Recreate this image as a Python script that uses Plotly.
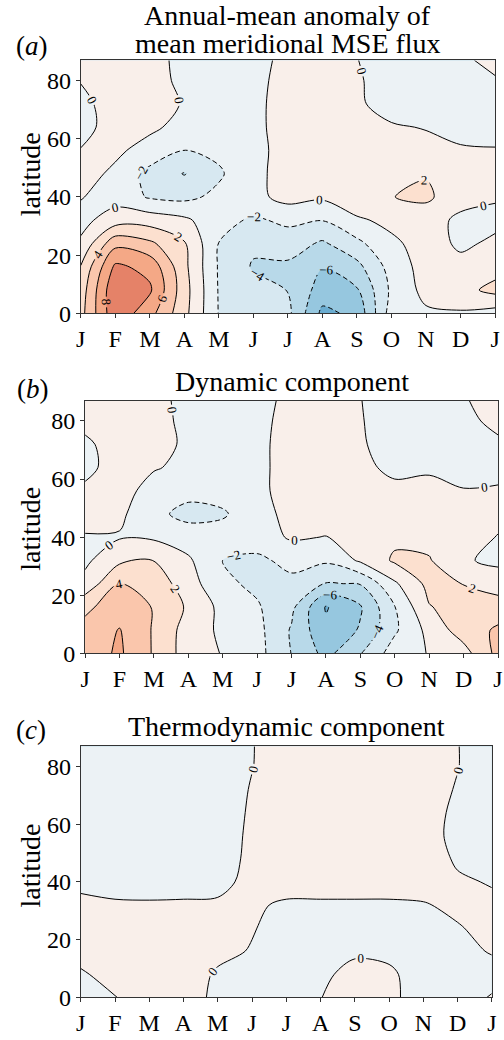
import plotly.graph_objects as go

# ---------------- data ----------------
months = list(range(13))
month_labels = ["J", "F", "M", "A", "M", "J", "J", "A", "S", "O", "N", "D", "J"]
lats = [0, 8, 16, 24, 32, 40, 48, 56, 64, 72, 80, 87]
lat_ticks = [0, 20, 40, 60, 80]

# rows = latitudes (lats), columns = months (J..J)
mse_total = [
    [3.3, 9.5, 6.7, 2.6, -2.1, -2.8, -3.5, -8.5, -7.5, -1.0, -0.3, -0.2, -0.8],
    [2.9, 9.7, 8.3, 2.8, -2.15, -3.3, -4.05, -6.9, -6.2, -1.6, 0.6, 1.3, 2.6],
    [2.1, 8.4, 7.4, 2.5, -2.2, -4.2, -4.4, -5.9, -4.6, -1.2, 0.8, 0.5, 1.2],
    [0.3, 5.4, 4.4, 2.2, -2.05, -3.6, -3.0, -4.3, -2.5, -0.4, 0.8, -0.3, 0.3],
    [-0.6, 1.0, 1.1, 0.4, -1.3, -2.3, -1.6, -1.95, -0.3, 0.5, 0.8, -0.4, -0.4],
    [0.1, -0.8, -2.2, -2.5, -1.5, -0.6, 0.7, 0.3, 1.4, 1.95, 2.4, 0.7, 0.15],
    [0.6, -0.3, -2.7, -4.1, -2.3, -0.4, 0.6, 0.6, 1.0, 1.2, 1.85, 0.5, 0.3],
    [0.05, 0.3, -0.6, -2.05, -1.5, -0.4, 0.5, 0.6, 0.5, 0.4, 0.3, 0.1, 0.05],
    [-0.4, 0.5, 0.3, -0.5, -0.7, -0.3, 0.5, 0.5, 0.4, 0.1, -0.05, -0.3, -0.3],
    [-0.3, 0.5, 0.6, -0.1, -0.5, -0.3, 0.5, 0.5, 0.15, -0.4, -0.4, -0.4, -0.4],
    [0.05, 0.5, 0.5, -0.3, -0.5, -0.4, 0.5, 0.4, 0.1, -0.4, -0.4, -0.2, -0.1],
    [0.3, 0.5, 0.5, -0.4, -0.4, -0.5, 0.4, 0.4, 0.02, -0.4, -0.3, -0.2, 0.3],
]

mse_dynamic = [
    [5.0, 6.3, 3.8, 1.0, -0.1, -1.3, -4.05, -6.6, -4.1, -1.0, 0.1, 1.2, 4.6],
    [4.6, 6.1, 3.8, 1.1, -0.4, -1.4, -4.2, -7.6, -5.8, -2.3, 0.6, 3.0, 4.3],
    [3.6, 5.0, 3.9, 1.7, -0.6, -1.8, -3.5, -8.15, -6.2, -2.05, 1.9, 2.8, 3.0],
    [0.6, 4.1, 3.2, 0.9, -1.6, -2.4, -2.6, -4.1, -3.9, -0.3, 2.6, 1.95, 1.0],
    [-0.4, 1.6, 2.05, 0.3, -2.05, -2.5, -1.3, -1.7, 0.3, 2.3, 2.15, 0.2, -0.4],
    [-0.1, -0.15, -0.3, -1.0, -0.9, -0.8, 0.2, -0.05, 1.3, 1.6, 1.4, 0.5, -0.05],
    [0.5, 0.4, -1.5, -2.6, -2.3, -0.5, 0.4, 0.5, 1.0, 0.9, 0.8, 0.5, 0.3],
    [0.2, 0.5, -0.5, -1.4, -1.0, -0.3, 0.5, 0.6, 0.8, 0.3, 0.4, 0.05, 0.1],
    [-0.3, 0.5, 0.1, -0.3, -0.6, -0.3, 0.5, 0.6, 0.3, -0.3, -0.2, -0.4, -0.3],
    [-0.2, 0.5, 0.4, -0.2, -0.5, -0.3, 0.5, 0.6, 0.1, -0.4, -0.4, -0.4, -0.2],
    [0.3, 0.5, 0.4, -0.3, -0.5, -0.4, 0.5, 0.5, 0.05, -0.4, -0.4, -0.3, 0.3],
    [0.4, 0.5, 0.3, -0.3, -0.5, -0.5, 0.4, 0.5, 0.02, -0.4, -0.3, -0.1, 0.5],
]

mse_thermo = [
    [-0.3, -0.02, 0.3, 0.1, -0.05, -0.05, -0.2, -0.02, 0.4, 0.2, -0.4, -0.3, 0.05],
    [-0.1, 0.3, 0.4, 0.4, -0.1, -0.3, -0.3, -0.2, 0.3, 0.15, -0.4, -0.3, -0.25],
    [0.3, 0.4, 0.4, 0.4, 0.2, -0.05, -0.3, -0.3, -0.15, -0.2, -0.4, -0.2, 0.05],
    [0.4, 0.4, 0.4, 0.4, 0.35, 0.05, -0.3, -0.3, -0.3, -0.3, -0.3, -0.05, 0.2],
    [0.2, 0.1, 0.08, 0.1, 0.1, 0.1, -0.1, -0.1, -0.1, -0.1, -0.05, 0.15, 0.15],
    [-0.2, -0.3, -0.3, -0.3, -0.2, 0.2, 0.3, 0.3, 0.3, 0.3, 0.3, 0.1, -0.05],
    [-0.4, -0.5, -0.5, -0.5, -0.4, 0.2, 0.4, 0.4, 0.4, 0.4, 0.4, -0.1, -0.3],
    [-0.5, -0.5, -0.5, -0.5, -0.4, 0.15, 0.4, 0.4, 0.4, 0.4, 0.3, -0.2, -0.4],
    [-0.5, -0.5, -0.5, -0.5, -0.4, 0.1, 0.4, 0.4, 0.4, 0.4, 0.3, -0.15, -0.4],
    [-0.5, -0.5, -0.5, -0.5, -0.4, 0.05, 0.4, 0.4, 0.4, 0.4, 0.3, -0.05, -0.4],
    [-0.5, -0.5, -0.5, -0.5, -0.4, -0.02, 0.4, 0.4, 0.4, 0.4, 0.3, 0.02, -0.4],
    [-0.5, -0.5, -0.5, -0.5, -0.4, -0.03, 0.4, 0.4, 0.4, 0.4, 0.3, 0.02, -0.4],
]

titles = [["Annual-mean anomaly of", "mean meridional MSE flux"],
          ["Dynamic component"],
          ["Thermodynamic component"]]
panel_tags = ["(<i>a</i>)", "(<i>b</i>)", "(<i>c</i>)"]

# ---------------- styling ----------------
W, H = 504, 1040
FONT = "Liberation Serif"
LEV_START, LEV_END, LEV_STEP = -10, 10, 2
VMIN, VMAX = -18, 18

RDBU_R = [(0.0, (5, 48, 97)), (0.1, (33, 102, 172)), (0.2, (67, 147, 195)),
          (0.3, (146, 197, 222)), (0.4, (209, 229, 240)), (0.5, (247, 247, 247)),
          (0.6, (253, 219, 199)), (0.7, (244, 165, 130)), (0.8, (214, 96, 77)),
          (0.9, (178, 24, 43)), (1.0, (103, 0, 31))]


def cmap(t):
    t = min(max(t, 0.0), 1.0)
    for (p0, c0), (p1, c1) in zip(RDBU_R[:-1], RDBU_R[1:]):
        if t <= p1:
            f = (t - p0) / (p1 - p0)
            return "rgb(%d,%d,%d)" % tuple(round(a + (b - a) * f) for a, b in zip(c0, c1))
    return "rgb(%d,%d,%d)" % RDBU_R[-1][1]


# stepwise colorscale: one flat colour per filled band (band midpoints -11..11);
# plotly maps the fill colour scale onto [start - step/2, end + step/2]
nb = int(round((LEV_END - LEV_START) / LEV_STEP)) + 2
dom0 = LEV_START - LEV_STEP / 2
dom1 = LEV_END + LEV_STEP / 2
colorscale = []
for i in range(nb):
    mid = LEV_START - LEV_STEP / 2 + i * LEV_STEP
    col = cmap((mid - VMIN) / (VMAX - VMIN))
    lo = max(0.0, (mid - LEV_STEP / 2 - dom0) / (dom1 - dom0))
    hi = min(1.0, (mid + LEV_STEP / 2 - dom0) / (dom1 - dom0))
    colorscale.append([lo, col])
    colorscale.append([hi, col])

# panel geometry in pixels (left, right, top, bottom)
boxes = [(77.3, 500.0, 61.0, 317.3),
         (81.7, 503.0, 405.7, 661.7),
         (77.3, 496.7, 755.7, 1010.0)]
title_y = [[16, 44], [386], [736]]
tag_pos = [(27.5, 47), (29, 394), (27, 739)]
ylabel_y = [176, 535, 876]
LABEL_FONT = dict(family=FONT, size=13, color="black")

fig = go.Figure()
datasets = [mse_total, mse_dynamic, mse_thermo]
for k, z in enumerate(datasets):
    xa = "x" if k == 0 else "x%d" % (k + 1)
    ya = "y" if k == 0 else "y%d" % (k + 1)
    fig.add_trace(go.Contour(
        x=months, y=lats, z=z, xaxis=xa, yaxis=ya,
        colorscale=colorscale, showscale=False, hoverinfo="skip",
        contours=dict(start=LEV_START, end=LEV_END, size=LEV_STEP,
                      coloring="fill", showlines=False),
        line=dict(width=0, smoothing=0.9)))
    fig.add_trace(go.Contour(
        x=months, y=lats, z=z, xaxis=xa, yaxis=ya,
        showscale=False, hoverinfo="skip",
        contours=dict(start=0, end=LEV_END, size=LEV_STEP, coloring="none",
                      showlabels=True, labelfont=LABEL_FONT),
        line=dict(color="black", width=1, smoothing=0.9)))
    fig.add_trace(go.Contour(
        x=months, y=lats, z=z, xaxis=xa, yaxis=ya,
        showscale=False, hoverinfo="skip",
        contours=dict(start=LEV_START, end=-LEV_STEP, size=LEV_STEP,
                      coloring="none", showlabels=True, labelfont=LABEL_FONT),
        line=dict(color="black", width=1, dash="5px,3px", smoothing=0.9)))

axis_style = dict(showline=True, linecolor="#333333", linewidth=1, mirror=True,
                  ticks="outside", ticklen=4, tickwidth=1, tickcolor="#333333",
                  tickfont=dict(family=FONT, size=24, color="black"),
                  showgrid=False, zeroline=False, fixedrange=True)

layout = dict(width=W, height=H, margin=dict(l=0, r=0, t=0, b=0),
              paper_bgcolor="white", plot_bgcolor="white", showlegend=False)
annotations = []
for k, (l, r, t, b) in enumerate(boxes):
    xname = "xaxis" if k == 0 else "xaxis%d" % (k + 1)
    yname = "yaxis" if k == 0 else "yaxis%d" % (k + 1)
    yref = "y" if k == 0 else "y%d" % (k + 1)
    xref = "x" if k == 0 else "x%d" % (k + 1)
    layout[xname] = dict(axis_style, domain=[l / W, r / W], range=[0, 12],
                         tickvals=months, ticktext=month_labels, anchor=yref)
    layout[yname] = dict(axis_style, domain=[1 - b / H, 1 - t / H], range=[0, 87],
                         tickvals=lat_ticks, anchor=xref)
    cx = (l + r) / 2
    for txt, ty in zip(titles[k], title_y[k]):
        annotations.append(dict(text=txt, x=cx / W, y=1 - ty / H, xref="paper", yref="paper",
                                xanchor="center", yanchor="middle", showarrow=False,
                                font=dict(family=FONT, size=28, color="black")))
    tx, tyy = tag_pos[k]
    annotations.append(dict(text=panel_tags[k], x=tx / W, y=1 - tyy / H, xref="paper",
                            yref="paper", xanchor="center", yanchor="middle", showarrow=False,
                            font=dict(family=FONT, size=27, color="black")))
    annotations.append(dict(text="latitude", x=26 / W, y=1 - ylabel_y[k] / H, xref="paper",
                            yref="paper", xanchor="center", yanchor="middle", showarrow=False,
                            textangle=-90, font=dict(family=FONT, size=28, color="black")))
layout["annotations"] = annotations
fig.update_layout(**layout)

fig.write_html("out.html")
